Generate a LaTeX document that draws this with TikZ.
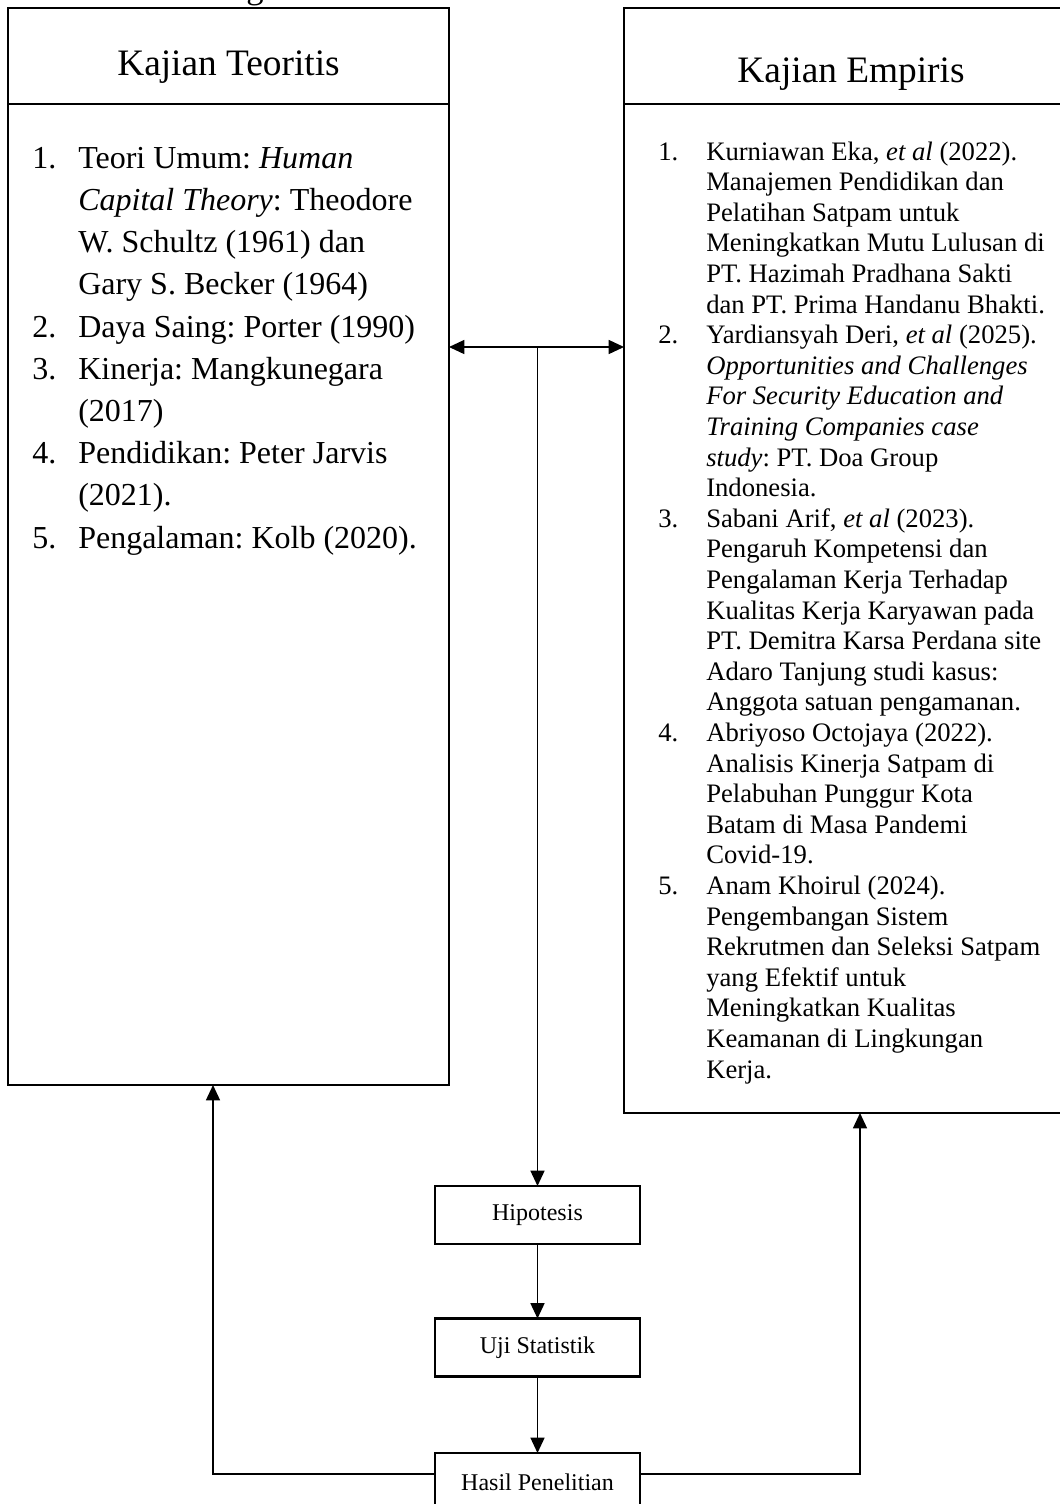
\documentclass[tikz,border=0pt]{standalone}
\usepackage{fontspec}
\setmainfont{Liberation Serif}
\usetikzlibrary{arrows.meta}
\frenchspacing
\newcommand\lnum[1]{\makebox[34.5pt][l]{#1}}
\newcommand\lind{\hspace*{34.5pt}}
\newcommand\rnum[1]{\makebox[36pt][l]{#1}}
\newcommand\rind{\hspace*{36pt}}
\begin{document}
\begin{tikzpicture}[x=0.75pt,y=-0.75pt,
  bigbox/.style={draw, line width=1.8pt, rectangle, inner sep=0pt, outer sep=0pt, anchor=north west},
  smallbox/.style={draw, line width=1.8pt, rectangle, inner sep=0pt, outer sep=0pt, minimum width=153.75pt, minimum height=43.5pt, font=\fontsize{18}{21}\selectfont},
  conn/.style={line width=1.1pt, -{Triangle[length=11.5pt,width=10.5pt]}},
  dconn/.style={line width=1.1pt, {Triangle[length=11.5pt,width=10.5pt]}-{Triangle[length=11.5pt,width=10.5pt]}},
  titletext/.style={anchor=base, inner sep=0pt, font=\fontsize{28}{33}\selectfont},
  leftlist/.style={anchor=base west, inner sep=0pt, align=left, font=\fontsize{24}{31.65}\selectfont\frenchspacing},
  rightlist/.style={anchor=base west, inner sep=0pt, align=left, font=\fontsize{20}{22.95}\selectfont\frenchspacing}
]
\useasboundingbox (0,0) rectangle (1060,1504);
\clip (0,0) rectangle (1060,1504);
\fill[white] (0,0) rectangle (1060,1504);

% partial caption glyph cut by the page top
\node[anchor=base, inner sep=0pt, font=\fontsize{26}{30}\selectfont] (cap) at (255,-1.5) {g};

% big boxes
\node[bigbox, minimum width=330.75pt, minimum height=807.75pt] (lbox) at (8,8) {};
\node[bigbox, minimum width=342pt, minimum height=828.75pt] (rbox) at (624,8) {};
\coordinate (lh) at (8,104);
\coordinate (rh) at (624,104);
\draw[line width=1.8pt] (lh) -- (lh -| lbox.east);
\draw[line width=1.8pt] (rh) -- (rh -| rbox.east);

\node[titletext] (ltitle) at (228.5,75) {Kajian Teoritis};
\node[titletext] (rtitle) at (851,82) {Kajian Empiris};

% base anchor = baseline of the last line
\node[leftlist] (llist) at (32,548) {%
\lnum{1.}Teori Umum: \textit{Human}\\
\lind\textit{Capital Theory}: Theodore\\
\lind W. Schultz (1961) dan\\
\lind Gary S. Becker (1964)\\
\lnum{2.}Daya Saing: Porter (1990)\\
\lnum{3.}Kinerja: Mangkunegara\\
\lind (2017)\\
\lnum{4.}Pendidikan: Peter Jarvis\\
\lind (2021).\\
\lnum{5.}Pengalaman: Kolb (2020).};

\node[rightlist] (rlist) at (658,1078) {%
\rnum{1.}Kurniawan Eka, \textit{et al} (2022).\\
\rind Manajemen Pendidikan dan\\
\rind Pelatihan Satpam untuk\\
\rind Meningkatkan Mutu Lulusan di\\
\rind PT. Hazimah Pradhana Sakti\\
\rind dan PT. Prima Handanu Bhakti.\\
\rnum{2.}Yardiansyah Deri, \textit{et al} (2025).\\
\rind\textit{Opportunities and Challenges}\\
\rind\textit{For Security Education and}\\
\rind\textit{Training Companies case}\\
\rind\textit{study}: PT. Doa Group\\
\rind Indonesia.\\
\rnum{3.}Sabani Arif, \textit{et al} (2023).\\
\rind Pengaruh Kompetensi dan\\
\rind Pengalaman Kerja Terhadap\\
\rind Kualitas Kerja Karyawan pada\\
\rind PT. Demitra Karsa Perdana site\\
\rind Adaro Tanjung studi kasus:\\
\rind Anggota satuan pengamanan.\\
\rnum{4.}Abriyoso Octojaya (2022).\\
\rind Analisis Kinerja Satpam di\\
\rind Pelabuhan Punggur Kota\\
\rind Batam di Masa Pandemi\\
\rind Covid-19.\\
\rnum{5.}Anam Khoirul (2024).\\
\rind Pengembangan Sistem\\
\rind Rekrutmen dan Seleksi Satpam\\
\rind yang Efektif untuk\\
\rind Meningkatkan Kualitas\\
\rind Keamanan di Lingkungan\\
\rind Kerja.};

% small boxes
\node[smallbox] (hip) at (537.5,1215) {Hipotesis};
\node[smallbox] (uji) at (537.5,1347.5) {Uji Statistik};
\node[smallbox] (has) at (537.5,1482) {Hasil Penelitian};

% connectors
\coordinate (yA) at (0,347);
\coordinate (yH) at (0,1474);
\coordinate (jn) at (hip.north |- yA);
\coordinate (lfb) at (213,1085);
\coordinate (rfb) at (860,1113);
\draw[dconn] (lbox.east |- yA) -- (rbox.west |- yA);
\draw[conn] (jn) -- (hip.north);
\draw[conn] (hip.south) -- (uji.north);
\draw[conn] (uji.south) -- (has.north);
\draw[conn] (has.west |- yH) -| (lfb);
\draw[conn] (has.east |- yH) -| (rfb);
\end{tikzpicture}
\end{document}
